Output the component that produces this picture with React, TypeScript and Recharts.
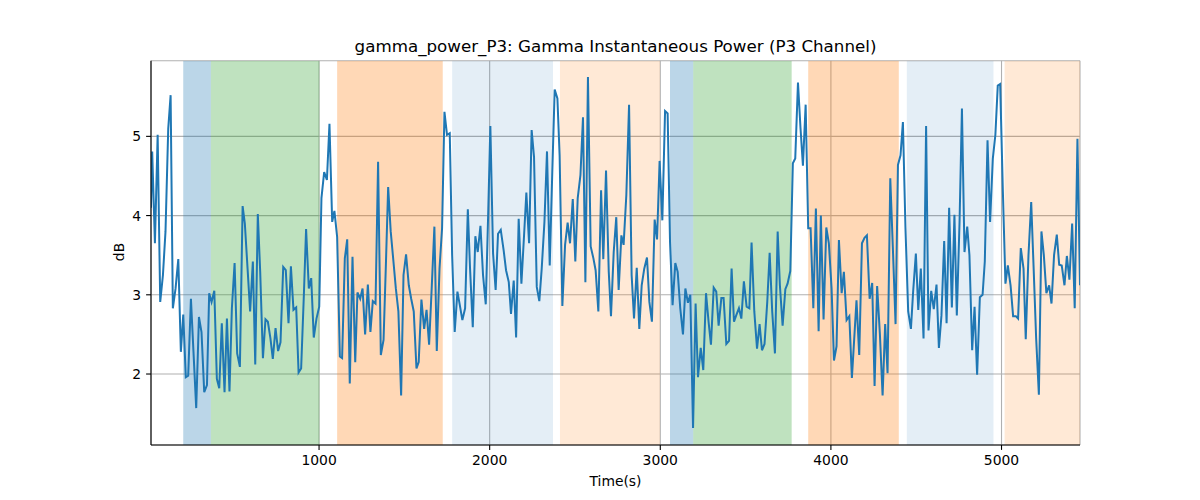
// Gamma power trace for the P3 channel, with shaded stage bands behind it

import {
  LineChart,
  Line,
  XAxis,
  YAxis,
  CartesianGrid,
  ReferenceArea,
} from 'recharts'

// sample times (s) and gamma power (dB)
const times = [
  15, 22, 38, 54, 69, 85, 100, 116, 130, 143, 159, 175, 190, 204, 219, 233, 249, 264, 280, 296,
  311, 327, 343, 356, 370, 386, 401, 415, 430, 446, 460, 475, 489, 505, 520, 536, 552, 565, 581, 596,
  612, 626, 641, 655, 671, 686, 700, 715, 729, 745, 760, 774, 790, 805, 821, 835, 850, 866, 880, 895,
  911, 924, 940, 954, 969, 985, 1001, 1014, 1030, 1046, 1061, 1077, 1090, 1106, 1122, 1135, 1151, 1165, 1180, 1196,
  1212, 1225, 1241, 1255, 1270, 1286, 1301, 1315, 1331, 1346, 1362, 1378, 1392, 1405, 1420, 1436, 1450, 1465, 1481, 1495,
  1510, 1526, 1540, 1555, 1571, 1584, 1600, 1616, 1630, 1645, 1661, 1676, 1690, 1706, 1721, 1735, 1750, 1766, 1780, 1795,
  1811, 1825, 1840, 1856, 1872, 1885, 1901, 1916, 1930, 1946, 1961, 1977, 1991, 2004, 2020, 2035, 2049, 2065, 2082, 2096,
  2112, 2125, 2141, 2155, 2170, 2186, 2201, 2215, 2231, 2246, 2260, 2276, 2291, 2305, 2321, 2336, 2352, 2367, 2381, 2397,
  2410, 2426, 2442, 2457, 2471, 2487, 2502, 2516, 2532, 2547, 2561, 2576, 2592, 2608, 2621, 2637, 2653, 2666, 2682, 2698,
  2711, 2727, 2742, 2756, 2772, 2785, 2801, 2817, 2832, 2846, 2862, 2877, 2891, 2906, 2922, 2936, 2951, 2967, 2981, 2996,
  3012, 3028, 3043, 3057, 3072, 3088, 3102, 3117, 3133, 3147, 3162, 3176, 3192, 3207, 3221, 3237, 3252, 3268, 3283, 3297,
  3313, 3328, 3342, 3358, 3371, 3387, 3403, 3418, 3432, 3445, 3461, 3475, 3490, 3506, 3522, 3535, 3551, 3567, 3582, 3596,
  3611, 3627, 3641, 3656, 3672, 3688, 3701, 3717, 3733, 3746, 3762, 3777, 3791, 3807, 3822, 3836, 3852, 3867, 3881, 3897,
  3912, 3928, 3941, 3957, 3973, 3988, 4004, 4018, 4033, 4047, 4063, 4076, 4092, 4108, 4123, 4150, 4166, 4182, 4197, 4211,
  4227, 4242, 4256, 4271, 4287, 4303, 4318, 4332, 4348, 4363, 4379, 4393, 4408, 4422, 4437, 4453, 4469, 4482, 4498, 4512,
  4527, 4543, 4558, 4572, 4588, 4603, 4619, 4633, 4648, 4664, 4678, 4693, 4709, 4724, 4738, 4754, 4768, 4783, 4799, 4812,
  4828, 4842, 4857, 4873, 4889, 4902, 4918, 4933, 4949, 4964, 4978, 4992, 5008, 5023, 5037, 5053, 5068, 5084, 5097, 5113,
  5129, 5142, 5158, 5174, 5189, 5203, 5219, 5234, 5248, 5263, 5279, 5293, 5308, 5324, 5338, 5353, 5369, 5383, 5398, 5414,
  5429, 5445, 5460,
]

const power = [
  4.1, 4.81, 3.65, 5.02, 2.91, 3.25, 3.8, 5.1, 5.52, 2.83, 3.08, 3.45, 2.28, 2.75, 1.96, 1.98, 2.95, 2.28, 1.57, 2.72,
  2.53, 1.77, 1.86, 3.02, 2.91, 3.05, 1.94, 1.82, 2.64, 1.77, 2.7, 1.78, 2.83, 3.4, 2.26, 2.09, 4.12, 3.9, 3.33, 2.79,
  3.42, 2.12, 4.02, 3.29, 2.2, 2.69, 2.66, 2.45, 2.19, 2.58, 2.29, 2.4, 3.35, 3.31, 2.64, 3.36, 2.81, 2.84, 2.02, 2.07,
  3.0, 3.83, 3.08, 3.21, 2.46, 2.7, 2.85, 4.22, 4.55, 4.45, 5.16, 3.92, 4.06, 3.73, 2.22, 2.2, 3.46, 3.7, 1.88, 3.48,
  2.15, 3.03, 2.95, 3.08, 2.5, 3.13, 2.53, 2.92, 2.89, 4.68, 2.24, 2.43, 3.4, 4.36, 3.8, 3.42, 3.08, 2.79, 1.73, 3.25,
  3.51, 3.12, 2.95, 2.79, 2.07, 2.15, 2.94, 2.57, 2.81, 2.37, 3.12, 3.86, 2.29, 3.33, 3.84, 5.31, 5.02, 5.04, 3.5, 2.53,
  3.04, 2.87, 2.68, 2.83, 4.08, 3.33, 2.59, 3.74, 3.54, 3.87, 3.25, 2.88, 4.0, 5.13, 3.52, 3.06, 3.77, 3.82, 3.56, 3.31,
  3.16, 2.76, 3.18, 2.46, 3.96, 3.14, 3.73, 4.29, 3.65, 5.08, 4.74, 3.1, 2.92, 3.33, 3.92, 4.81, 3.37, 4.55, 5.59, 5.48,
  4.76, 2.86, 3.63, 3.91, 3.65, 4.21, 3.42, 4.22, 4.51, 5.24, 3.16, 5.75, 3.61, 3.46, 3.31, 2.79, 4.32, 3.45, 4.57, 3.29,
  2.73, 3.54, 3.98, 3.06, 3.75, 3.63, 4.26, 5.4, 3.25, 2.7, 3.34, 2.57, 3.12, 3.33, 3.47, 2.91, 2.66, 3.95, 3.7, 4.69,
  3.94, 5.32, 5.29, 3.67, 2.87, 3.4, 3.29, 2.83, 2.5, 3.08, 2.9, 3.0, 1.32, 2.89, 1.96, 2.33, 2.05, 3.02, 2.66, 2.37,
  3.09, 3.04, 2.61, 2.96, 2.96, 2.38, 2.42, 3.33, 2.66, 2.74, 2.83, 2.7, 3.17, 2.85, 2.83, 3.66, 2.79, 2.32, 2.63, 2.3,
  2.38, 2.91, 3.53, 2.79, 2.26, 3.8, 3.12, 2.61, 3.07, 3.14, 3.3, 4.66, 4.72, 5.68, 5.1, 4.63, 5.4, 3.84, 3.84, 2.83,
  4.09, 2.54, 4.0, 2.69, 3.85, 3.65, 3.08, 2.17, 2.35, 3.69, 3.02, 3.29, 2.68, 2.73, 1.95, 2.93, 2.24, 3.65, 3.72, 3.75,
  2.95, 3.15, 1.85, 3.11, 2.51, 1.73, 2.63, 2.01, 4.47, 3.6, 2.63, 4.64, 4.76, 5.18, 3.84, 2.79, 2.57, 3.04, 3.52, 2.81,
  3.33, 2.45, 5.13, 2.55, 3.05, 2.82, 3.13, 2.33, 2.74, 3.68, 2.64, 4.1, 2.84, 4.01, 2.74, 3.92, 5.35, 3.54, 3.86, 3.5,
  2.3, 2.85, 1.99, 2.97, 3.0, 3.42, 4.95, 3.92, 4.72, 5.02, 5.64, 5.66, 4.3, 3.14, 3.37, 3.12, 2.73, 2.73, 2.7, 3.59,
  3.33, 2.44, 3.5, 4.17, 3.29, 2.45, 1.74, 3.8, 3.5, 3.02, 3.12, 2.89, 3.5, 3.76, 3.38, 3.37, 3.12, 3.49, 3.19, 3.9,
  2.83, 4.97, 3.12,
]

// shaded stage bands (start, end in seconds, and which kind)
const bandStart = [204, 366, 1106, 1780, 2412, 3057, 3193, 3867, 4445, 5018]
const bandEnd = [366, 1002, 1725, 2371, 2998, 3193, 3770, 4398, 4953, 5460]
const bandKind = ['blue', 'green', 'orange', 'paleBlue', 'paleOrange', 'blue', 'green', 'orange', 'paleBlue', 'paleOrange']

const xTicks = [1000, 2000, 3000, 4000, 5000]
const yTicks = [2, 3, 4, 5]

const bandStyle: Record<string, { fill: string; opacity: number }> = {
  blue: { fill: '#1f77b4', opacity: 0.3 },
  green: { fill: '#2ca02c', opacity: 0.3 },
  orange: { fill: '#ff7f0e', opacity: 0.3 },
  paleBlue: { fill: '#1f77b4', opacity: 0.12 },
  paleOrange: { fill: '#ff7f0e', opacity: 0.17 },
}

const chartData = times.map((t, i) => ({ t, v: power[i] }))

const FONT = '"DejaVu Sans", sans-serif'
const tickStyle = { fill: '#000', fontSize: 13.9, fontFamily: FONT }

export default function App() {
  return (
    <div
      style={{
        position: 'absolute',
        left: 0,
        top: 0,
        width: 1200,
        height: 500,
        background: '#fff',
        fontFamily: FONT,
      }}
    >
      <div
        style={{
          position: 'absolute',
          left: 615.5,
          top: 36,
          transform: 'translateX(-50%)',
          whiteSpace: 'nowrap',
          fontSize: 16.7,
          lineHeight: '20px',
          color: '#000',
        }}
      >
        gamma_power_P3: Gamma Instantaneous Power (P3 Channel)
      </div>

      <LineChart
        width={1200}
        height={500}
        data={chartData}
        margin={{ top: 60.7, right: 120, bottom: 25, left: 91 }}
      >
        <CartesianGrid stroke="#b0b0b0" strokeWidth={1.1} />

        {bandStart.map((s, i) => (
          <ReferenceArea
            key={i}
            x1={s}
            x2={bandEnd[i]}
            fill={bandStyle[bandKind[i]].fill}
            fillOpacity={bandStyle[bandKind[i]].opacity}
            stroke="none"
            ifOverflow="hidden"
          />
        ))}

        <XAxis
          dataKey="t"
          type="number"
          domain={[15, 5460]}
          ticks={xTicks}
          allowDataOverflow
          height={30}
          tick={tickStyle}
          tickSize={4.9}
          tickMargin={4.9}
          axisLine={{ stroke: '#000', strokeWidth: 1.1 }}
          tickLine={{ stroke: '#000', strokeWidth: 1.1 }}
        />
        <XAxis
          xAxisId="top"
          orientation="top"
          dataKey="t"
          type="number"
          domain={[15, 5460]}
          height={0}
          tick={false}
          tickLine={false}
          axisLine={{ stroke: '#000', strokeWidth: 1.1 }}
        />
        <YAxis
          type="number"
          domain={[1.104, 5.955]}
          ticks={yTicks}
          allowDataOverflow
          width={60}
          tick={tickStyle}
          tickSize={4.9}
          tickMargin={4.9}
          axisLine={{ stroke: '#000', strokeWidth: 1.1 }}
          tickLine={{ stroke: '#000', strokeWidth: 1.1 }}
        />
        <YAxis
          yAxisId="right"
          orientation="right"
          type="number"
          domain={[1.104, 5.955]}
          width={0}
          tick={false}
          tickLine={false}
          axisLine={{ stroke: '#000', strokeWidth: 1.1 }}
        />

        <Line
          type="linear"
          dataKey="v"
          stroke="#1f77b4"
          strokeWidth={2}
          dot={false}
          activeDot={false}
          isAnimationActive={false}
        />
      </LineChart>

      <div
        style={{
          position: 'absolute',
          left: 615.5,
          top: 473,
          transform: 'translateX(-50%)',
          fontSize: 13.9,
          lineHeight: '16px',
          color: '#000',
        }}
      >
        Time(s)
      </div>
      <div
        style={{
          position: 'absolute',
          left: 119,
          top: 252,
          transform: 'translate(-50%, -50%) rotate(-90deg)',
          fontSize: 13.9,
          lineHeight: '16px',
          color: '#000',
        }}
      >
        dB
      </div>
    </div>
  )
}
